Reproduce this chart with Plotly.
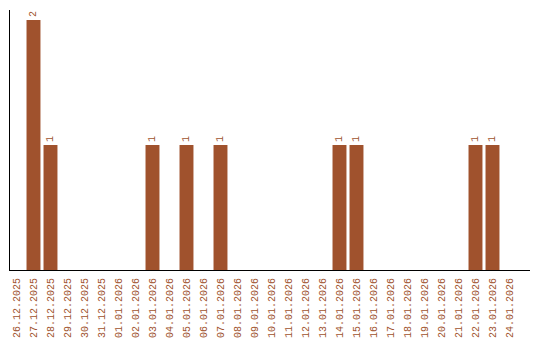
import plotly.graph_objects as go

dates = ["26.12.2025", "27.12.2025", "28.12.2025", "29.12.2025", "30.12.2025", "31.12.2025",
         "01.01.2026", "02.01.2026", "03.01.2026", "04.01.2026", "05.01.2026", "06.01.2026",
         "07.01.2026", "08.01.2026", "09.01.2026", "10.01.2026", "11.01.2026", "12.01.2026",
         "13.01.2026", "14.01.2026", "15.01.2026", "16.01.2026", "17.01.2026", "18.01.2026",
         "19.01.2026", "20.01.2026", "21.01.2026", "22.01.2026", "23.01.2026", "24.01.2026"]
counts = [0, 2, 1, 0, 0, 0, 0, 0, 1, 0, 1, 0, 1, 0, 0, 0, 0, 0, 0, 1, 1, 0, 0, 0, 0, 0, 0, 1, 1, 0]

COLOR = "#A0522D"
FONT = "Liberation Mono"

labels = [str(v) if v > 0 else "" for v in counts]

fig = go.Figure(go.Bar(
    x=dates, y=counts, marker_color=COLOR, marker_line_width=0,
    text=labels, textposition="outside", textangle=-90,
    textfont=dict(family=FONT, size=10, color=COLOR),
    cliponaxis=False,
))

left = -0.382
fig.update_layout(
    width=540, height=340,
    margin=dict(l=10, r=10, t=10, b=70),
    paper_bgcolor="white", plot_bgcolor="white",
    bargap=0.18, showlegend=False,
    font=dict(family=FONT, size=10, color=COLOR),
)
fig.update_xaxes(
    type="category", range=[left, left + 520 / 17],
    showline=True, linecolor="black", linewidth=1,
    showgrid=False, ticks="", tickangle=-90, automargin=False,
    ticklabelstandoff=3,
    tickfont=dict(family=FONT, size=10, color=COLOR),
)
fig.update_yaxes(
    range=[0, 2.08], showline=True, linecolor="black", linewidth=1,
    showgrid=False, zeroline=False, showticklabels=False, ticks="",
    automargin=False,
)

fig.write_html("out.html")
